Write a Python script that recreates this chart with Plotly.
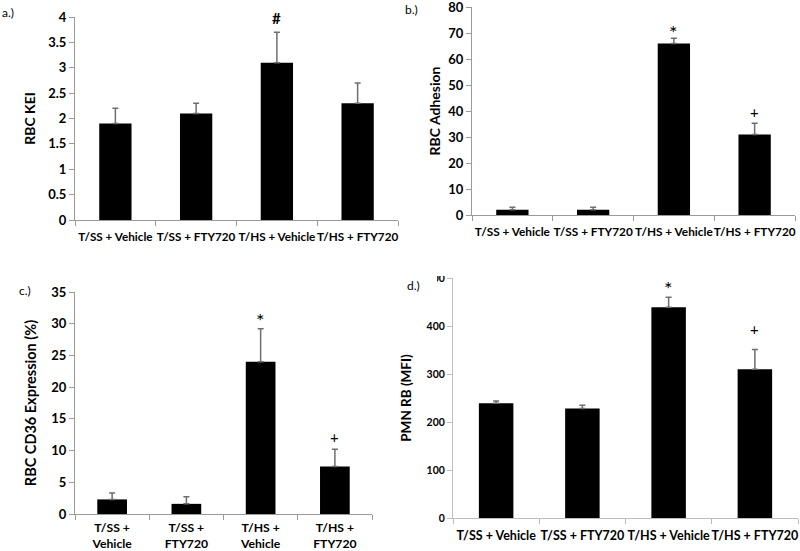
import plotly.graph_objects as go

W, H = 800, 551

categories = ["T/SS + Vehicle", "T/SS + FTY720", "T/HS + Vehicle", "T/HS + FTY720"]
categories_wrapped = ["T/SS +<br>Vehicle", "T/SS +<br>FTY720", "T/HS +<br>Vehicle", "T/HS +<br>FTY720"]

kei_mean = [1.9, 2.1, 3.1, 2.3]
kei_err = [0.3, 0.2, 0.6, 0.4]
kei_sig = ["", "", "#", ""]

adh_mean = [2.0, 2.0, 66.0, 31.0]
adh_err = [1.0, 1.0, 2.0, 4.3]
adh_sig = ["", "", "*", "+"]

cd36_mean = [2.3, 1.6, 24.0, 7.5]
cd36_err = [1.0, 1.1, 5.2, 2.7]
cd36_sig = ["", "", "*", "+"]

pmn_mean = [239, 228, 439, 310]
pmn_err = [5, 7, 21, 41]
pmn_sig = ["", "", "*", "+"]

FONT = "Lato"

def px_dom_x(a, b):
    return [a / W, b / W]

def px_dom_y(top, bottom):
    return [1 - bottom / H, 1 - top / H]

panels = [
    dict(cats=categories, mean=kei_mean, err=kei_err, sig=kei_sig,
         xd=px_dom_x(75, 398), yd=px_dom_y(17, 220), rng=[0, 4], dtick=0.5,
         title="RBC KEI", tfs=13, xfs=11.7, xso=6, ttl=14, so=9, lab="a.)", labpos=(0, 12),
         axcol="#9a9a9a", shifts=[0, 0, 14, 0]),
    dict(cats=categories, mean=adh_mean, err=adh_err, sig=adh_sig,
         xd=px_dom_x(472, 795), yd=px_dom_y(7, 215), rng=[0, 80], dtick=10,
         title="RBC Adhesion", tfs=13, xfs=11.8, xso=6, ttl=14, so=4, lab="b.)", labpos=(403, 10),
         axcol="#9a9a9a", shifts=[0, 0, 6, 11]),
    dict(cats=categories_wrapped, mean=cd36_mean, err=cd36_err, sig=cd36_sig,
         xd=px_dom_x(75, 372), yd=px_dom_y(292, 514), rng=[0, 35], dtick=5,
         title="RBC CD36 Expression (%)", tfs=13, xfs=12.2, xso=2, ttl=14.5, so=11, lab="c.)", labpos=(17, 290),
         axcol="#9a9a9a", shifts=[0, 0, 9, 12]),
    dict(cats=categories, mean=pmn_mean, err=pmn_err, sig=pmn_sig,
         xd=px_dom_x(453, 798), yd=px_dom_y(278, 518), rng=[0, 500], dtick=100,
         title="PMN RB (MFI)", tfs=10.5, xfs=12.5, xso=6, ttl=13.5, so=11, lab="d.)", labpos=(405, 285),
         axcol="#bdbdbd", shifts=[0, 0, 9, 21]),
]

fig = go.Figure()
annotations = []
for i, p in enumerate(panels, start=1):
    xa = "x" if i == 1 else f"x{i}"
    ya = "y" if i == 1 else f"y{i}"
    fig.add_trace(go.Bar(
        x=p["cats"], y=p["mean"], xaxis=xa, yaxis=ya,
        marker=dict(color="black", line=dict(width=0)),
        error_y=dict(type="data", array=p["err"], arrayminus=[0] * len(p["err"]),
                     symmetric=False, color="#6e6e6e", thickness=1.5, width=3),
        showlegend=False, hoverinfo="skip",
    ))
    axis_style = dict(showline=True, linecolor=p["axcol"], linewidth=1,
                      ticks="outside", tickcolor=p["axcol"], ticklen=5,
                      showgrid=False, zeroline=False, automargin=False,
                      ticklabeloverflow="allow")
    fig.layout[f"xaxis{'' if i == 1 else i}"] = dict(
        domain=p["xd"], anchor=ya, type="category", tickson="boundaries", tickangle=0,
        ticklabelstandoff=p["xso"],
        tickfont=dict(family=FONT, size=p["xfs"], color="black", weight="bold"),
        fixedrange=True, **axis_style)
    fig.layout[f"yaxis{'' if i == 1 else i}"] = dict(
        domain=p["yd"], anchor=xa, range=p["rng"], dtick=p["dtick"], fixedrange=True,
        tickfont=dict(family=FONT, size=p["tfs"], color="black", weight="bold"),
        title=dict(text=p["title"], font=dict(family=FONT, size=p["ttl"], color="black", weight="bold"),
                   standoff=p["so"]),
        **axis_style)
    for c, m, e, s, sh in zip(p["cats"], p["mean"], p["err"], p["sig"], p["shifts"]):
        if s:
            annotations.append(dict(
                x=c, y=m + e, xref=xa, yref=ya, text=s, showarrow=False,
                yanchor="middle", yshift=sh,
                font=dict(family=FONT, size={"#": 15, "*": 20, "+": 15}[s], color="black",
                          weight="bold" if s == "#" else "normal")))
    lx, ly = p["labpos"]
    annotations.append(dict(x=lx / W, y=1 - ly / H, xref="paper", yref="paper",
                            text=p["lab"], showarrow=False, xanchor="left", yanchor="middle",
                            font=dict(family=FONT, size=12, color="black")))

# the top tick label of panel d is partly cut off in the source figure
shapes = [
    dict(type="rect", xref="paper", yref="paper", x0=400 / W, x1=451 / W,
         y0=1 - 276 / H, y1=1 - 262 / H, fillcolor="white", line=dict(width=0), layer="above"),
    dict(type="rect", xref="paper", yref="paper", x0=400 / W, x1=437 / W,
         y0=1 - 290 / H, y1=1 - 262 / H, fillcolor="white", line=dict(width=0), layer="above"),
]

fig.update_layout(
    width=W, height=H, margin=dict(l=0, r=0, t=0, b=0, autoexpand=False),
    paper_bgcolor="white", plot_bgcolor="white",
    bargap=0.6, annotations=annotations, shapes=shapes,
    font=dict(family=FONT, color="black"),
)

fig.write_html(
    "out.html",
    config={"displayModeBar": False, "staticPlot": True},
    post_script="document.body.style.margin='0';document.body.style.overflow='hidden';",
)
